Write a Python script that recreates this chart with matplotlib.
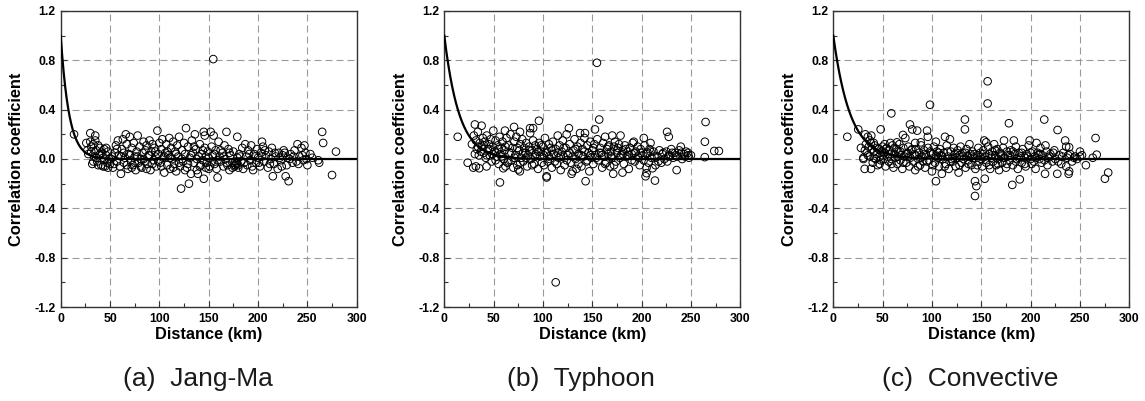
import numpy as np
import matplotlib
matplotlib.use("Agg")
import matplotlib.pyplot as plt
from matplotlib.ticker import MultipleLocator, FormatStrFormatter

# ---------------- data ----------------
captions = ["(a)  Jang-Ma", "(b)  Typhoon", "(c)  Convective"]
decay_lengths = [8.5, 15.0, 17.0]   # km, fitted exponential curves

jangma_x = [13.5, 30, 35, 154.6, 98, 127, 136, 145, 146, 152, 155, 168, 179, 204, 265, 266, 279, 275, 231, 228, 215,
            122, 130, 159, 145, 61, 139, 250, 262, 261, 253, 240, 247, 226, 227,
            26, 27, 28, 30, 31, 32, 33, 34, 35, 36, 37, 38, 39, 40, 41, 42, 43, 44, 45, 46, 47, 48, 49, 50,
            52, 53, 55, 56, 57, 58, 59, 60, 62, 63, 64, 65, 66, 67, 68, 69, 70, 71, 72, 73, 74, 75, 76, 77, 78, 79,
            80, 81, 82, 83, 84, 85, 86, 87, 88, 89, 90, 91, 92, 93, 94, 95, 96, 97, 99, 100,
            101, 102, 103, 104, 105, 106, 107, 108, 109, 110, 111, 112, 113, 114, 115, 116, 117, 118, 119, 120, 121,
            123, 124, 125, 126, 128, 129, 131, 132, 133, 134, 135, 137, 138, 140, 141, 142, 143, 144, 146, 147, 148,
            149, 150,
            151, 153, 154, 156, 157, 158, 160, 161, 162, 164, 165, 166, 167, 169, 170, 171, 172, 174, 175, 176, 177,
            178, 179, 180, 181, 183, 184, 185, 187, 188, 189, 190, 192, 193, 195, 196, 198, 199, 200,
            202, 203, 205, 206, 208, 210, 211, 213, 214, 216, 218, 220, 221, 223, 225, 229, 230, 233, 235, 237, 239,
            242, 244, 246, 248,
            31, 33, 36, 38, 40, 43, 46, 48, 51, 54, 57, 61, 64, 67, 70, 72, 75, 78, 81, 84, 87, 90, 93, 96, 99,
            102, 105, 108, 111, 114, 117, 120, 123, 126, 129, 132, 135, 138, 141, 144, 147, 150, 153, 156, 159,
            162, 165, 168, 171, 174, 177, 178, 180, 182, 186, 191, 194, 197, 201, 204, 207, 212, 217, 222, 224,
            232, 236, 241, 245, 249, 255]
jangma_y = [0.20, 0.21, 0.19, 0.81, 0.23, 0.25, 0.20, 0.22, 0.19, 0.22, 0.19, 0.22, 0.18, 0.14, 0.22, 0.13, 0.06,
            -0.13, -0.18, -0.14, -0.14, -0.24, -0.20, -0.15, -0.16, -0.12, -0.12, -0.05, -0.03, -0.01, 0.04, 0.12,
            0.11, 0.07, 0.05,
            0.13, 0.07, 0.04, 0.14, 0.10, -0.04, 0.12, 0.02, 0.15, 0.07, -0.02, 0.11, 0.03, 0.09, -0.05, 0.05, 0.01,
            0.08, -0.06, 0.03, -0.03, 0.06, 0.00, -0.04,
            0.02, -0.07, 0.05, 0.11, -0.02, 0.15, 0.03, -0.06, 0.08, 0.16, -0.03, 0.01, 0.20, 0.12, -0.08, 0.04,
            0.18, -0.01, 0.09, -0.05, 0.13, 0.02, -0.09, 0.06, 0.19, -0.03,
            0.10, 0.00, -0.07, 0.05, 0.14, -0.02, 0.07, 0.11, -0.04, 0.03, 0.15, -0.09, 0.06, 0.12, -0.01, 0.09,
            0.02, -0.06, 0.04, 0.13,
            -0.03, 0.08, 0.16, 0.01, -0.11, 0.05, 0.12, -0.05, 0.03, 0.17, -0.08, 0.09, 0.00, 0.14, -0.04, 0.06,
            -0.10, 0.11, 0.02, 0.18, -0.06,
            0.07, -0.02, 0.13, 0.04, -0.07, 0.10, 0.01, -0.12, 0.15, 0.05, -0.03, 0.08, -0.09, 0.02, 0.12, -0.05,
            0.04, -0.01, 0.09, -0.07, -0.03, 0.06, 0.01,
            -0.06, 0.10, 0.03, -0.04, 0.07, -0.08, 0.14, 0.02, -0.02, 0.05, -0.06, 0.11, 0.00, -0.05, 0.08, -0.09,
            0.03, -0.03, 0.06, -0.06, -0.02,
            -0.04, 0.01, -0.07, 0.04, -0.02, 0.09, -0.08, 0.12, 0.02, -0.05, 0.07, -0.01, 0.11, -0.09, 0.04, -0.03,
            0.08, 0.01,
            -0.06, 0.05, 0.10, -0.02, 0.03, -0.07, 0.06, 0.00, 0.09, -0.04, 0.02, -0.08, 0.05, -0.01, 0.03, -0.05,
            0.01, 0.04, -0.03, 0.07, -0.02, 0.02, 0.09, -0.01, 0.05,
            0.06, -0.02, 0.01, -0.05, 0.04, -0.06, 0.09, -0.07, 0.00, -0.04, 0.08, 0.02, 0.05, -0.05, 0.03, -0.07,
            -0.03, 0.02, -0.06, 0.00, -0.08, 0.03, -0.04, 0.06, -0.02, -0.06, 0.02, 0.06, 0.01, -0.07, 0.04, -0.03,
            0.00, -0.09, -0.04, 0.03, 0.10, 0.00, -0.06, 0.07, 0.02, -0.08, -0.02, 0.04, -0.01, 0.07, 0.02, -0.03,
            0.05, -0.07, -0.05, -0.03, -0.05, 0.02, -0.03, 0.04, -0.06, 0.02, -0.03, 0.02, 0.07, -0.04, 0.05, 0.01,
            -0.06, 0.00, 0.02, -0.04, 0.03, 0.00, 0.01]

typhoon_x = [13.6, 31, 37.8, 23.7, 29.4, 32, 35.4, 42.8, 56.4, 49.7, 61.5, 70.7, 76.7, 86.9, 90, 95.9, 126.3, 157,
             152.7, 142.6, 137.6, 170.2, 178.6, 192.1, 202.2, 209, 225.8, 227.5, 239.7, 264.8, 264.1, 273.6, 278.3,
             264, 247.3, 235.5, 213.5, 204, 205, 205, 211, 180.6, 171.2, 143.2, 103.7, 103.7, 129, 130, 76.6, 75,
             70, 59.8, 62, 112.9, 154.7,
             28, 30, 32, 33, 34, 35, 36, 38, 39, 40, 41, 42, 43, 44, 45, 46, 47, 48, 49,
             51, 52, 53, 54, 55, 56, 57, 58, 59, 60, 61, 63, 64, 65, 66, 67, 68, 69, 71, 72, 73, 74, 76, 77, 78, 79,
             80, 81, 82, 83, 84, 85, 86, 87, 88, 89, 90, 91, 92, 93, 94, 95, 96, 97, 98, 99,
             100, 101, 102, 104, 105, 106, 107, 108, 109, 110, 111, 113, 114, 115, 116, 117, 118, 119, 120, 121, 122,
             123, 124, 125, 127, 128, 131, 132, 133, 134, 135, 136, 138, 139, 140, 141, 142, 144, 145, 146, 147, 148,
             149, 150,
             151, 152, 153, 155, 156, 158, 159, 160, 161, 162, 163, 164, 165, 166, 167, 168, 169, 170, 172, 173, 174,
             175, 176, 177, 179, 181, 182, 183, 185, 186, 187, 188, 190, 191, 193, 194, 196, 197, 198, 199,
             201, 203, 206, 207, 208, 210, 212, 214, 216, 218, 220, 221, 223, 225, 226, 228, 230, 232, 234, 236, 238,
             241, 243, 245, 248, 250,
             31, 34, 37, 40, 43, 46, 49, 52, 55, 58, 62, 65, 68, 71, 74, 77, 80, 83, 86, 89, 92, 95, 98, 101, 103,
             106, 109, 112, 115, 118, 121, 124, 127, 130, 133, 136, 139, 142, 145, 148, 151, 154, 157, 160, 163,
             166, 169, 172, 175, 178, 181, 184, 187, 190, 193, 196, 199, 202, 205, 209, 213, 217, 222, 227, 231,
             235, 240, 244, 247]
typhoon_y = [0.18, 0.28, 0.27, -0.03, -0.07, -0.06, -0.075, -0.06, -0.19, 0.23, 0.23, 0.26, 0.22, 0.25, 0.25, 0.31,
             0.25, 0.32, 0.24, 0.21, 0.21, 0.19, 0.19, 0.14, 0.17, 0.13, 0.22, 0.18, 0.10, 0.30, 0.14, 0.065, 0.065,
             0.015, 0.03, -0.09, -0.175, -0.14, -0.115, -0.07, -0.075, -0.11, -0.12, -0.18, -0.14, -0.15, -0.12,
             -0.10, -0.10, -0.085, -0.07, -0.075, -0.06, -1.0, 0.78,
             0.12, 0.19, 0.15, 0.08, 0.22, 0.03, 0.13, 0.10, 0.17, 0.05, 0.14, 0.01, 0.19, 0.08, 0.12, 0.03, 0.16,
             -0.02, 0.10,
             0.06, 0.15, 0.02, 0.11, -0.04, 0.18, 0.04, 0.09, 0.14, 0.00, 0.07, 0.17, -0.03, 0.11, 0.05, 0.20, -0.01,
             0.09, 0.14, 0.03, 0.18, -0.05, 0.07, 0.12, 0.01, 0.16,
             -0.02, 0.09, 0.05, 0.13, -0.06, 0.03, 0.10, 0.21, 0.00, 0.07, 0.15, -0.04, 0.11, 0.04, 0.08, -0.08, 0.13,
             0.02, 0.06, -0.03,
             0.10, 0.03, 0.17, 0.06, -0.02, 0.12, 0.00, 0.09, -0.07, 0.14, 0.04, 0.08, -0.04, 0.19, 0.01, 0.11, -0.09,
             0.06, 0.15, 0.02, -0.05,
             0.09, 0.20, 0.03, 0.12, -0.03, 0.07, 0.16, 0.00, -0.08, 0.10, 0.04, 0.13, -0.06, 0.08, 0.02, 0.17, -0.02,
             0.11, 0.05, -0.10, 0.14, 0.01, 0.07,
             -0.04, 0.12, 0.03, 0.16, -0.01, 0.09, 0.05, -0.07, 0.13, 0.02, 0.18, -0.03, 0.08, 0.04, 0.11, -0.06,
             0.06, 0.01, 0.10, 0.14, -0.02,
             0.05, 0.09, 0.12, 0.03, 0.07, -0.04, 0.11, 0.02, 0.06, -0.08, 0.09, 0.04, 0.13, -0.02, 0.06, 0.10, 0.01,
             -0.05, 0.08,
             0.03, 0.11, 0.05, -0.03, 0.08, 0.01, 0.06, -0.05, 0.02, 0.07, -0.03, 0.04, 0.00, 0.06, -0.02, 0.03, 0.08,
             0.01, 0.05, 0.02, 0.07, 0.00, 0.04, 0.06, 0.01, 0.03,
             0.04, 0.10, 0.06, 0.11, 0.03, 0.08, 0.04, -0.01, 0.08, 0.02, 0.10, -0.02, 0.05, 0.01, 0.09, -0.03, 0.05,
             0.01, 0.07, -0.05, 0.02, 0.06, 0.11, -0.05, 0.05, 0.02, 0.07, -0.02, 0.05, 0.02, 0.09, -0.01, 0.05,
             0.02, 0.08, -0.04, 0.03, 0.06, -0.01, 0.03, 0.09, 0.01, 0.05, 0.03, -0.04, 0.10, 0.02, -0.05, 0.07,
             0.01, 0.04, 0.08, 0.03, -0.01, 0.05, 0.02, 0.05, -0.01, 0.04, 0.06, 0.02, -0.02, 0.05, 0.02, 0.05,
             0.03, 0.05, 0.02, 0.05]

convective_x = [156.4, 156.4, 98, 58.8, 133.4, 133.4, 213.8, 178, 227.3, 265.8, 77.7, 48, 14.2, 80, 85, 95, 275.3,
                278.6, 143.6, 145, 143.6, 181.4, 189, 153.5, 104, 238.5, 239, 236, 227, 214.6, 31.8, 38.2, 30.5,
                30.5, 28, 25.3, 32.4, 35, 38.5, 263, 267, 256, 250, 236, 239, 235, 206, 215, 208, 199, 183, 173, 153,
                155, 118.2, 113.2, 104, 95.8, 88.7, 83, 70.6, 73, 64.5, 57.8, 52, 41, 37,
                33, 34, 36, 37, 39, 40, 41, 42, 43, 44, 45, 46, 47, 48, 49, 50,
                51, 52, 53, 54, 55, 56, 57, 59, 60, 61, 62, 63, 64, 65, 66, 67, 68, 69, 70, 71, 72, 74, 75, 76, 77,
                78, 79, 81, 82, 83, 84, 86, 87, 88, 89, 90, 91, 92, 93, 94, 96, 97, 99, 100,
                101, 102, 103, 105, 106, 107, 108, 109, 110, 111, 112, 114, 115, 116, 117, 119, 120, 121, 122, 123,
                124, 125, 126, 127, 128, 129, 130, 131, 132, 134, 135, 136, 137, 138, 139, 140, 141, 142, 144, 146,
                147, 148, 149, 150,
                151, 152, 154, 155, 157, 158, 159, 160, 161, 162, 163, 164, 165, 166, 167, 168, 169, 170, 171, 172,
                174, 175, 176, 177, 179, 180, 182, 184, 185, 186, 187, 188, 190, 191, 192, 194, 195, 196, 198, 200,
                201, 202, 204, 205, 207, 209, 210, 211, 212, 216, 217, 218, 220, 222, 224, 225, 229, 231, 233, 237,
                240, 242, 245, 247, 252,
                32, 35, 38, 41, 44, 47, 50, 53, 56, 59, 62, 65, 68, 71, 74, 77, 80, 83, 86, 89, 92, 95, 98, 101, 104,
                107, 110, 113, 116, 119, 122, 125, 128, 131, 134, 137, 140, 143, 146, 149, 152, 155, 158, 161, 164,
                167, 170, 173, 176, 179, 182, 185, 188, 191, 194, 197, 200, 203, 206, 210, 214, 219, 223, 228, 232,
                238, 244, 250]
convective_y = [0.63, 0.45, 0.44, 0.37, 0.32, 0.24, 0.32, 0.29, 0.235, 0.17, 0.28, 0.24, 0.18, 0.24, 0.23, 0.23,
                -0.16, -0.11, -0.30, -0.22, -0.18, -0.21, -0.165, -0.16, -0.18, -0.12, -0.10, -0.06, -0.12, -0.12,
                -0.08, -0.08, 0.01, 0.00, 0.09, 0.24, 0.20, 0.18, 0.19, 0.01, 0.035, -0.05, 0.06, 0.10, 0.095, 0.15,
                0.13, 0.11, 0.035, 0.15, 0.15, 0.15, 0.15, 0.135, 0.16, 0.18, 0.14, 0.18, 0.135, 0.13, 0.195, 0.17,
                0.135, 0.13, 0.12, 0.13, 0.15,
                0.12, 0.05, 0.10, 0.02, 0.08, -0.03, 0.06, 0.11, 0.00, 0.04, -0.05, 0.08, 0.02, -0.01, 0.06, 0.10,
                0.00, 0.05, -0.06, 0.09, 0.02, -0.02, 0.07, 0.00, 0.11, -0.07, 0.04, 0.01, 0.08, -0.04, 0.06, 0.12,
                -0.01, 0.03, -0.08, 0.09, 0.02, -0.03, 0.05, 0.10, -0.06,
                0.01, 0.07, -0.02, 0.04, -0.09, 0.08, 0.00, 0.05, -0.05, 0.11, 0.02, -0.02, 0.07, -0.07, 0.03, 0.09,
                -0.01, 0.05, -0.10,
                0.04, 0.10, -0.03, 0.06, 0.01, -0.06, 0.08, 0.03, -0.12, 0.00, 0.05, -0.04, 0.11, 0.02, -0.08, 0.06,
                0.00, -0.02, 0.09, 0.04, -0.06, 0.01, 0.07, -0.11, 0.03, 0.10, -0.03, 0.05, 0.00, -0.07, 0.08, 0.02,
                -0.01, 0.12, 0.04, -0.05, 0.06, 0.01, -0.08, 0.03, 0.09, -0.02, 0.05, 0.00,
                -0.06, 0.07, 0.02, -0.03, 0.10, 0.04, -0.08, 0.01, 0.06, -0.02, 0.12, 0.03, -0.05, 0.08, 0.00, -0.09,
                0.05, 0.02, -0.03, 0.09, 0.01, -0.07, 0.06, 0.03, -0.01, 0.07, -0.05, 0.04, 0.10, 0.00, -0.08, 0.05,
                0.02, -0.03, 0.08, 0.01, -0.06, 0.04, 0.11, 0.00,
                -0.04, 0.06, 0.02, -0.08, 0.05, 0.00, 0.09, -0.03, 0.03, 0.06, -0.05, 0.01, 0.04, -0.02, 0.07, 0.00,
                0.03, -0.04, 0.05, 0.01, 0.04, -0.02, 0.02, 0.00, 0.03,
                0.07, 0.03, 0.13, 0.01, 0.09, -0.04, 0.03, 0.08, 0.04, -0.04, 0.09, 0.02, 0.06, -0.03, 0.04, 0.02,
                0.08, 0.03, -0.06, 0.01, 0.04, -0.02, 0.06, -0.05, 0.02, 0.05, 0.02, -0.06, 0.06, -0.02, 0.01, 0.05,
                -0.05, 0.02, 0.05, -0.04, 0.02, 0.04, -0.05, 0.02, 0.04, -0.01, -0.05, 0.03, 0.07, -0.04, 0.04, 0.01,
                -0.04, 0.03, 0.06, -0.02, 0.01, 0.05, -0.04, 0.02, 0.05, -0.02, 0.01, 0.04, -0.01, 0.02, 0.05, -0.02,
                0.02, 0.03, 0.01, 0.02]

panels_x = [jangma_x, typhoon_x, convective_x]
panels_y = [jangma_y, typhoon_y, convective_y]

# ---------------- figure ----------------
plt.rcParams['font.family'] = ['Liberation Sans', 'DejaVu Sans']

fig = plt.figure(figsize=(11.45, 4.01), dpi=100)
lefts = [60.7 / 1145, 444.3 / 1145, 833.3 / 1145]
width = 296 / 1145
bottom = 1 - 307 / 401
height = 296 / 401

d = np.linspace(0, 300, 600)
for i in range(3):
    ax = fig.add_axes([lefts[i], bottom, width, height])
    ax.set_xlim(0, 300)
    ax.set_ylim(-1.2, 1.2)
    ax.xaxis.set_major_locator(MultipleLocator(50))
    ax.xaxis.set_minor_locator(MultipleLocator(25))
    ax.yaxis.set_major_locator(MultipleLocator(0.4))
    ax.yaxis.set_minor_locator(MultipleLocator(0.2))
    ax.yaxis.set_major_formatter(FormatStrFormatter('%.1f'))
    ax.grid(True, which='major', color='#9a9a9a', linestyle=(0, (6.3, 3.6)), linewidth=0.8)
    ax.set_axisbelow(True)
    ax.tick_params(which='both', direction='in', top=False, right=False, color='#333333')
    ax.tick_params(which='major', length=4, width=0.8, labelsize=8.8)
    ax.tick_params(axis='x', which='major', pad=4.5)
    ax.tick_params(axis='y', which='major', pad=3.5)
    ax.tick_params(which='minor', length=3, width=0.8)
    for lab in ax.get_xticklabels() + ax.get_yticklabels():
        lab.set_fontweight('bold')
    for sp in ax.spines.values():
        sp.set_color('#333333')
        sp.set_linewidth(1.0)

    ax.scatter(panels_x[i], panels_y[i], s=30, facecolors='none', edgecolors='black',
               linewidths=0.7, zorder=3)
    ax.plot(d, np.exp(-d / decay_lengths[i]), color='black', linewidth=1.6, zorder=4)

    ax.set_xlabel('Distance (km)', fontsize=11.8, fontweight='bold')
    ax.xaxis.set_label_coords(0.5, -0.066)
    ax.set_ylabel('Correlation coefficient', fontsize=11.8, fontweight='bold')
    ax.yaxis.set_label_coords(-0.124, 0.5)

    fig.text(lefts[i] + width / 2 - 11 / 1145, 1 - 386.4 / 401, captions[i], ha='center', va='baseline',
             fontsize=19, color='#1a1a1a')

fig.savefig('out.png', dpi=100)
